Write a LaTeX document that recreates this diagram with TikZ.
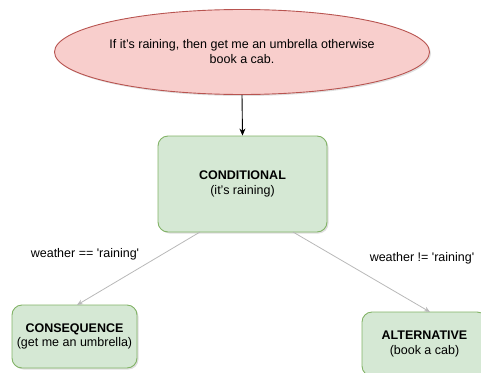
\documentclass[tikz,border=0pt]{standalone}
\usepackage{fontspec}
\setmainfont{Liberation Sans}
\usetikzlibrary{shapes.geometric,arrows.meta,shadows}
\definecolor{redfill}{HTML}{F8CECC}
\definecolor{redline}{HTML}{B85450}
\definecolor{greenfill}{HTML}{D5E8D4}
\definecolor{greenline}{HTML}{82B366}
\definecolor{edgegray}{HTML}{B8B8B8}
\newcommand{\sq}{\textquotesingle}
\tikzset{
  px/.style={x=1pt,y=-1pt},
  box/.style={draw=greenline, fill=greenfill, rounded corners=10pt, line width=0.9pt,
    align=center, inner sep=0pt, font=\fontsize{12.5}{14.5}\selectfont,
    drop shadow={shadow xshift=1.5pt, shadow yshift=-1.5pt, opacity=0.25, fill=gray}},
  oval/.style={ellipse, draw=redline, fill=redfill, line width=0.9pt, align=center,
    inner sep=0pt, font=\fontsize{12.5}{15}\selectfont,
    drop shadow={shadow xshift=1.5pt, shadow yshift=-1.5pt, opacity=0.25, fill=gray}},
  lbl/.style={font=\fontsize{12.5}{14.5}\selectfont, inner sep=0pt},
  grayedge/.style={draw=edgegray, line width=0.8pt, -{Stealth[length=6pt,width=5pt]}},
  blackedge/.style={draw=black, line width=0.9pt, -{Stealth[length=7pt,width=6pt]}}
}
\begin{document}
\begin{tikzpicture}[px]
\useasboundingbox (0,0) rectangle (481,372);
\clip (0,0) rectangle (481,372);
\node[oval, minimum width=284pt, minimum height=85pt] (q) at (242,52)
  {If it’s raining, then get me an umbrella otherwise\\book a cab.};
\node[box, minimum width=169pt, minimum height=96pt] (c) at (242.5,184)
  {\textbf{CONDITIONAL}\\(it’s raining)};
\node[box, minimum width=125pt, minimum height=63pt] (s) at (74.5,336.5)
  {\textbf{CONSEQUENCE}\\(get me an umbrella)};
\node[box, minimum width=125pt, minimum height=64pt] (a) at (424.5,344)
  {\textbf{ALTERNATIVE}\\(book a cab)};
\coordinate (cl) at (200,232);
\coordinate (cr) at (293,232);
\coordinate (sl) at (77,305);
\coordinate (ar) at (430,312);
\draw[blackedge] (q.south) -- (c.north);
\draw[grayedge] (cl) -- (sl);
\draw[grayedge] (cr) -- (ar);
\node[lbl] (l1) at (85,254) {weather == \sq raining\sq};
\node[lbl] (l2) at (422,258) {weather != \sq raining\sq};
\end{tikzpicture}
\end{document}
